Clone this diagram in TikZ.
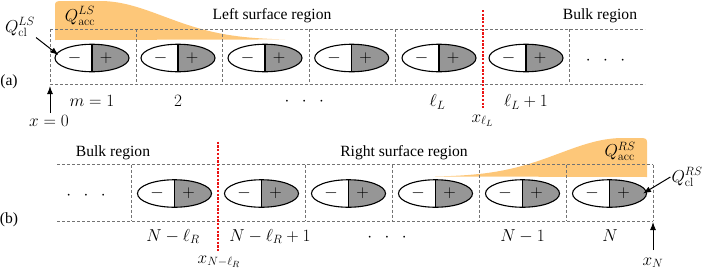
\documentclass[tikz,border=0pt]{standalone}
\usepackage[no-math]{fontspec}
\setmainfont{Liberation Serif}
\usetikzlibrary{shapes.geometric,arrows.meta,calc}
\definecolor{cellgray}{RGB}{150,150,150}
\definecolor{accorange}{RGB}{253,199,121}
\definecolor{dashgray}{RGB}{115,115,115}
\definecolor{redline}{RGB}{235,20,20}
\newcommand{\mfont}{\fontsize{18.5}{20}\selectfont}
\newcommand{\tfont}{\fontsize{15.6}{18}\selectfont}
\begin{document}
\begin{tikzpicture}[x=1pt,y=-1pt,
  cell/.style={ellipse, draw, line width=1.1pt, minimum width=74pt, minimum height=27.5pt, inner sep=0pt,
    path picture={\fill[cellgray] (path picture bounding box.north) rectangle (path picture bounding box.south east);
      \draw[line width=1.1pt] (path picture bounding box.north) -- (path picture bounding box.south);},
    label={[xshift=-17.5pt,font=\mfont,inner sep=0pt]center:$-$},
    label={[xshift=14pt,font=\mfont,inner sep=0pt]center:$+$}},
  grid/.style={draw=dashgray, line width=0.8pt, dash pattern=on 3pt off 2pt},
  redl/.style={draw=redline, line width=2pt, dash pattern=on 2.3pt off 1.4pt},
  txt/.style={font=\tfont, inner sep=0pt, anchor=base},
  mlbl/.style={font=\mfont, inner sep=0pt, anchor=base},
  qlbl/.style={font=\mfont, inner sep=1pt},
  arr/.style={line width=1pt, -{Latex[length=8pt,width=6pt]}}
]
\useasboundingbox (0,0) rectangle (705,271);

% accumulated charge profiles
\fill[accorange] (55,40) -- (55,5) .. controls (55,1.5) and (57,1) .. (62,1) -- (100,1)
  -- plot[domain=100:285, samples=50] (\x, {40-39*exp(-((\x-100)/90)^2)}) -- cycle;
\fill[accorange] (647,177) -- (647,142) .. controls (647,138.5) and (645,138) .. (640,138) -- (623,138)
  -- plot[domain=623:435, samples=50] (\x, {177-39*exp(-((\x-623)/90)^2)}) -- cycle;

% row (a) grid
\draw[grid] (50,29) -- (645,29);
\draw[grid] (50,84) -- (645,84);
\foreach \xx in {50,136.3,222.8,309.3,395.8,569} \draw[grid] (\xx,29) -- (\xx,84);
% row (b) grid
\draw[grid] (57,164.5) -- (653,164.5);
\draw[grid] (57,221) -- (653,221);
\foreach \xx in {131,305,392,479,566,653} \draw[grid] (\xx,164.5) -- (\xx,221);

% cells row (a)
\node[cell] (a1) at (92,58) {};
\node[cell] (a2) at (178,58) {};
\node[cell] (a3) at (265,58) {};
\node[cell] (a4) at (351.7,58) {};
\node[cell] (a5) at (439,58) {};
\node[cell] (a6) at (526,58) {};
% cells row (b)
\node[cell] (b1) at (174.5,193.5) {};
\node[cell] (b2) at (261.5,193.5) {};
\node[cell] (b3) at (348.5,193.5) {};
\node[cell] (b4) at (435.5,193.5) {};
\node[cell] (b5) at (522.5,193.5) {};
\node[cell] (b6) at (609.5,193.5) {};

% red boundaries
\coordinate (rA1) at (483,10);
\coordinate (rA2) at (483,108);
\coordinate (rB1) at (218.3,141.7);
\coordinate (rB2) at (218.3,252);
\draw[redl] (rA1) -- (rA2);
\draw[redl] (rB1) -- (rB2);

% region texts
\node[txt] (lsr) at (272,19.5) {Left surface region};
\node[txt] (bra) at (600,19.5) {Bulk region};
\node[txt] (brb) at (113,156) {Bulk region};
\node[txt] (rsr) at (404,156) {Right surface region};
\node[font=\tfont, inner sep=0pt] (la) at (9,81.5) {(a)};
\node[font=\tfont, inner sep=0pt] (lb) at (9,219.5) {(b)};

% charge labels
\node[qlbl] (qaccL) at (80,16) {$Q_{\mathrm{acc}}^{LS}$};
\node[qlbl] (qclL) at (20,27) {$Q_{\mathrm{cl}}^{LS}$};
\node[qlbl] (qaccR) at (620,151.5) {$Q_{\mathrm{acc}}^{RS}$};
\node[qlbl] (qclR) at (687,177) {$Q_{\mathrm{cl}}^{RS}$};
\draw[arr] (qclL.south east) -- ($(a1.west)+(4,-3)$);
\draw[arr] (qclR.west) -- ($(b6.east)+(-4,0)$);

% bulk dots
\node[mlbl] (dA) at (605.5,64) {${\cdot}\mkern13mu{\cdot}\mkern13mu{\cdot}$};
\node[mlbl] (dB) at (86,199.6) {${\cdot}\mkern13mu{\cdot}\mkern13mu{\cdot}$};

% index labels row (a)
\node[mlbl] (m1) at (92,106.5) {$m=1$};
\node[mlbl] (m2) at (178,106.5) {$2$};
\node[mlbl] (m3) at (304.3,105) {${\cdot}\mkern13mu{\cdot}\mkern13mu{\cdot}$};
\node[mlbl] (mL) at (437.5,106.5) {$\ell_L$};
\node[mlbl] (mL1) at (526,106.5) {$\ell_L+1$};
\node[mlbl] (xL) at (482.5,122) {$x_{\ell_L}$};
\node[mlbl] (x0) at (49,126.5) {$x=0$};
\coordinate (x0t) at (50,113);
\coordinate (x0h) at (50,86);
\draw[arr] (x0t) -- (x0h);

% index labels row (b)
\node[mlbl] (n1) at (173,241) {$N-\ell_R$};
\node[mlbl] (n2) at (270,241) {$N-\ell_R+1$};
\node[mlbl] (n3) at (387,241.3) {${\cdot}\mkern13mu{\cdot}\mkern13mu{\cdot}$};
\node[mlbl] (n5) at (522.5,241) {$N-1$};
\node[mlbl] (n6) at (610,241) {$N$};
\node[mlbl] (xNl) at (219,263) {$x_{N-\ell_R}$};
\node[mlbl] (xN) at (653,265) {$x_N$};
\coordinate (xNt) at (653,250);
\coordinate (xNh) at (653,222);
\draw[arr] (xNt) -- (xNh);
\end{tikzpicture}
\end{document}
